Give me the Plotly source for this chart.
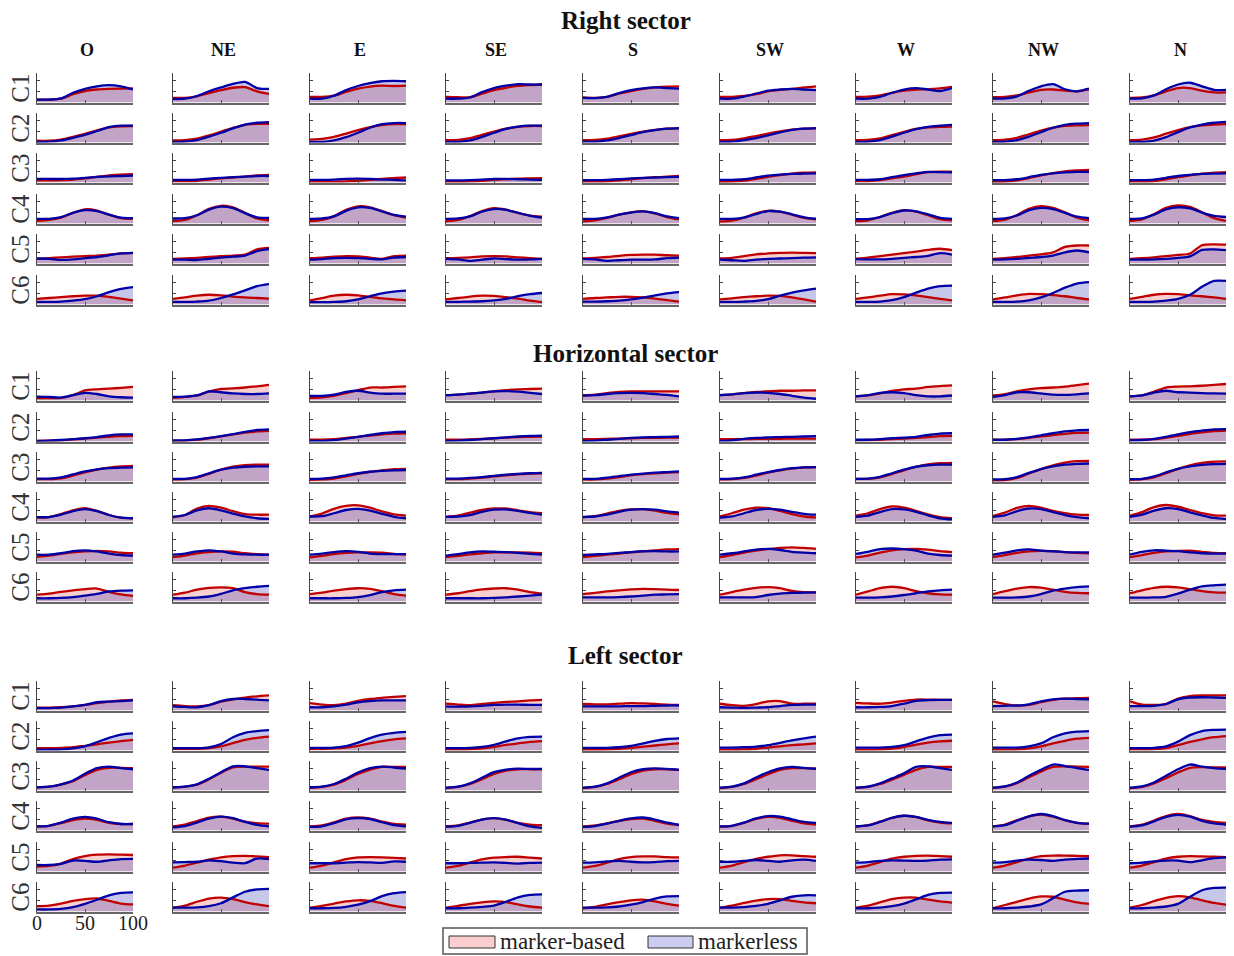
import plotly.graph_objects as go

# ---------------- data (percent of panel height) ----------------
X = [0, 12.5, 25, 37.5, 50, 62.5, 75, 87.5, 100]
SECTORS = ["Right sector", "Horizontal sector", "Left sector"]
DIRECTIONS = ["O", "NE", "E", "SE", "S", "SW", "W", "NW", "N"]
COMPONENTS = ["C1", "C2", "C3", "C4", "C5", "C6"]
X_TICK_LABELS = ["0", "50", "100"]
LEGEND_NAMES = ["marker-based", "markerless"]

# each list below: one curve per direction (O, NE, E, SE, S, SW, W, NW, N)
RIGHT_C1_MB = [[10,10,13,28,39,44,46,47,48],[16,16,21,32,42,50,52,38,29],[19,19,23,36,47,54,57,56,57],[19,18,18,30,42,50,56,59,61],[17,16,19,30,39,46,51,54,55],[19,19,22,28,38,43,46,51,55],[19,20,24,33,40,44,45,48,53],[18,19,24,34,43,44,40,38,45],[16,17,24,38,49,49,40,34,34]]
RIGHT_C1_ML = [[10,10,14,33,46,55,59,55,44],[12,13,22,38,51,63,70,49,46],[13,13,23,42,56,66,72,73,72],[13,13,17,35,49,57,62,61,61],[16,15,19,32,42,48,51,49,47],[13,13,20,30,40,44,46,44,42],[13,13,19,33,44,49,44,39,49],[13,14,21,40,55,62,45,38,47],[13,14,24,45,61,67,55,43,43]]
RIGHT_C2_MB = [[6,6,10,19,29,41,51,55,56],[7,8,13,24,37,50,60,63,63],[10,12,19,30,42,52,59,62,62],[8,9,15,26,37,47,53,56,56],[8,9,13,21,29,37,43,47,48],[8,9,14,22,30,38,44,47,48],[8,9,14,25,36,46,51,53,54],[8,10,16,28,40,50,56,58,59],[8,10,17,30,42,52,58,61,62]]
RIGHT_C2_ML = [[2,3,7,16,26,39,52,57,57],[2,3,8,20,33,48,61,67,69],[2,2,7,18,33,50,62,66,66],[2,2,7,19,33,46,54,57,57],[3,3,7,15,25,35,42,47,49],[2,3,8,15,24,34,43,47,49],[2,3,8,20,33,45,53,57,60],[2,3,8,20,35,50,60,64,66],[2,2,6,18,35,51,61,67,70]]
RIGHT_C3_MB = [[7,7,8,10,14,19,24,27,28],[5,5,6,10,14,17,20,24,26],[3,3,3,4,6,9,12,15,17],[3,3,4,6,9,11,13,14,15],[3,3,4,7,11,15,18,20,22],[2,3,6,12,19,25,30,33,34],[5,5,8,14,20,28,35,37,37],[2,3,7,15,24,32,38,41,43],[3,3,5,11,18,24,30,33,35]]
RIGHT_C3_ML = [[12,12,12,13,16,19,21,22,23],[9,9,10,13,16,18,20,22,22],[9,9,10,12,13,12,10,9,7],[7,7,8,10,12,12,11,10,9],[8,8,9,11,14,16,17,18,19],[9,9,11,17,23,27,29,30,31],[9,9,11,18,25,31,36,35,34],[8,8,11,18,26,31,34,36,36],[8,8,10,16,22,26,29,30,31]]
RIGHT_C4_MB = [[9,12,20,36,48,44,30,18,16],[8,12,28,50,60,55,36,17,11],[8,12,25,46,58,55,42,28,20],[7,12,25,42,52,47,36,27,23],[7,11,19,30,38,42,34,22,14],[7,10,20,34,43,40,30,19,14],[8,11,22,36,45,40,28,15,11],[8,13,29,50,59,53,38,20,11],[9,14,32,53,61,56,38,18,9]]
RIGHT_C4_ML = [[16,16,22,36,45,42,30,20,18],[17,18,28,47,57,52,35,21,19],[16,17,24,43,55,53,41,29,23],[16,17,24,40,49,46,36,26,20],[16,16,21,30,37,41,35,24,18],[16,16,20,32,42,40,31,21,16],[15,15,22,35,44,41,31,19,16],[16,17,27,45,53,49,36,23,18],[16,17,30,48,55,51,37,26,22]]
RIGHT_C5_MB = [[16,18,21,23,25,27,30,34,36],[16,17,19,22,25,27,30,48,53],[18,20,23,25,24,20,16,25,27],[18,19,21,24,25,24,21,18,16],[17,19,22,26,29,30,30,28,27],[17,19,25,31,34,36,37,36,35],[16,20,25,30,35,40,46,50,45],[16,18,22,27,31,38,56,61,61],[16,18,21,25,29,34,62,65,64]]
RIGHT_C5_ML = [[17,16,12,14,18,22,28,34,36],[13,13,12,16,20,23,27,42,49],[13,15,18,19,18,16,14,20,22],[16,14,9,13,17,15,13,14,16],[16,14,9,11,13,13,14,18,20],[13,11,9,13,16,17,18,20,21],[15,14,14,16,19,22,26,35,30],[13,14,16,19,22,27,38,44,38],[13,13,14,16,19,24,46,48,45]]
RIGHT_C6_MB = [[19,22,25,28,30,30,26,20,14],[19,24,30,33,31,27,24,22,20],[14,22,30,33,31,26,21,17,14],[17,22,27,30,29,25,20,13,8],[19,22,24,26,26,24,20,15,10],[17,21,25,28,30,29,24,17,10],[19,24,30,35,34,31,25,19,14],[17,24,31,36,35,32,28,22,17],[19,26,33,36,35,31,28,24,19]]
RIGHT_C6_ML = [[9,9,10,13,18,28,42,53,59],[9,9,10,13,22,34,48,62,69],[8,8,9,11,17,28,38,44,47],[9,9,10,11,14,19,28,35,39],[10,10,11,13,17,23,31,38,42],[9,9,10,12,18,30,40,48,54],[9,9,10,15,25,40,54,62,64],[9,9,10,14,24,39,57,71,76],[9,9,10,13,19,33,60,80,80]]

HORIZ_C1_MB = [[8,8,9,18,34,38,40,43,46],[9,12,17,30,39,41,44,48,53],[9,11,16,25,35,44,44,46,48],[18,20,23,27,31,35,38,39,40],[17,20,25,29,31,31,31,31,31],[18,21,25,29,31,33,33,34,34],[14,17,24,33,38,40,46,49,51],[17,22,31,38,42,44,47,52,57],[14,17,30,44,47,48,50,53,56]]
HORIZ_C1_ML = [[13,12,10,18,26,22,14,11,10],[12,13,17,31,28,24,22,22,24],[16,16,20,29,33,27,23,23,23],[18,20,23,27,31,32,30,26,22],[17,18,22,25,26,25,22,19,14],[18,21,25,27,26,22,16,10,6],[14,18,26,28,25,18,14,14,17],[12,18,28,28,24,20,19,21,24],[14,17,27,33,28,27,25,24,23]]
HORIZ_C2_MB = [[2,3,4,7,10,13,16,18,19],[2,3,6,11,17,24,30,34,36],[6,6,8,12,16,20,24,27,28],[6,6,7,9,11,13,15,16,17],[8,8,9,10,11,12,12,13,13],[8,8,8,9,9,9,10,10,10],[4,5,6,8,10,12,15,18,19],[6,6,8,12,17,22,26,29,30],[6,6,8,13,19,26,31,35,37]]
HORIZ_C2_ML = [[2,3,5,8,11,15,21,24,24],[4,4,7,12,18,25,33,39,41],[2,2,5,10,16,22,28,32,33],[2,3,5,8,11,14,17,19,20],[2,3,6,9,12,14,15,16,17],[2,4,9,12,14,15,16,17,18],[6,6,8,11,13,16,22,27,28],[6,6,9,14,21,28,34,38,39],[4,5,9,16,24,32,37,41,42]]
HORIZ_C3_MB = [[8,8,11,20,31,40,47,51,53],[7,8,13,26,40,50,55,57,57],[6,7,10,17,26,33,38,42,43],[8,8,10,13,17,21,24,27,28],[7,7,10,15,21,25,28,30,32],[7,8,12,20,30,38,44,48,49],[9,9,14,25,38,50,58,62,63],[3,5,12,27,42,55,64,69,70],[6,8,14,28,43,55,63,67,68]]
HORIZ_C3_ML = [[10,10,14,24,34,41,45,47,48],[9,9,15,28,40,47,50,51,51],[9,10,14,21,28,33,36,38,39],[10,10,12,15,19,23,26,28,29],[9,9,13,18,23,27,30,32,34],[9,10,14,23,32,39,45,48,49],[9,10,16,28,40,50,55,57,57],[7,8,15,29,42,51,57,60,61],[8,9,17,31,43,51,56,59,60]]
HORIZ_C4_MB = [[13,15,25,38,45,36,22,13,11],[14,22,44,53,47,35,25,23,23],[17,27,43,53,55,47,34,24,20],[16,20,30,39,44,44,38,32,28],[14,18,27,36,41,42,37,29,24],[17,28,40,47,45,36,25,17,14],[20,28,42,51,47,36,24,15,11],[19,30,46,53,47,36,28,23,22],[20,32,49,56,50,39,28,21,20]]
HORIZ_C4_ML = [[15,15,23,35,42,35,22,13,11],[16,22,38,45,38,27,17,11,9],[17,18,28,39,43,37,26,16,11],[16,17,22,33,40,41,36,29,23],[16,17,23,33,40,42,40,34,30],[13,17,28,39,43,40,33,26,23],[16,20,32,42,41,33,21,11,7],[16,21,35,44,42,32,22,15,11],[16,23,37,45,42,31,21,12,8]]
HORIZ_C5_MB = [[16,20,26,31,34,36,34,30,28],[15,20,28,32,34,33,28,25,23],[14,19,25,29,31,31,30,26,23],[15,19,24,28,31,31,31,30,28],[15,19,23,27,31,35,38,41,42],[15,22,30,37,42,46,48,46,43],[14,20,30,38,42,43,40,35,32],[15,22,29,34,36,35,32,29,28],[15,22,29,34,36,37,33,29,28]]
HORIZ_C5_ML = [[23,23,28,35,38,34,27,22,20],[23,27,34,38,34,27,24,23,23],[23,27,32,35,33,27,25,25,25],[20,25,31,34,33,32,29,26,23],[22,24,26,29,32,34,35,34,34],[23,28,34,40,43,39,33,30,28],[26,33,42,44,42,37,27,22,20],[23,30,38,41,37,34,32,31,31],[24,33,38,37,35,31,28,27,27]]
HORIZ_C6_MB = [[23,27,33,38,42,44,33,24,19],[23,30,40,46,48,45,32,25,23],[25,30,37,42,45,43,35,25,20],[23,28,35,41,44,45,40,32,27],[25,29,34,38,41,43,42,40,39],[23,32,40,46,49,45,36,32,31],[23,34,45,50,45,35,28,24,23],[25,35,44,49,47,40,33,29,28],[28,38,46,50,48,42,35,31,30]]
HORIZ_C6_ML = [[11,11,12,15,20,26,34,37,38],[11,11,13,17,26,38,45,50,53],[11,11,11,12,15,22,32,38,40],[11,11,11,11,12,14,17,20,23],[14,14,14,15,17,20,23,24,25],[14,14,14,15,22,27,29,30,31],[13,13,14,17,22,28,34,38,40],[13,13,14,17,25,37,44,49,51],[13,13,14,16,27,40,51,55,57]]

LEFT_C1_MB = [[10,10,11,14,19,25,30,34,36],[18,15,14,18,30,38,44,48,51],[25,20,18,23,33,39,43,46,49],[23,20,18,22,26,29,31,34,36],[22,21,21,23,25,24,22,20,19],[23,18,16,22,31,32,23,23,23],[26,24,23,27,33,37,37,36,36],[31,22,17,19,28,36,40,42,43],[31,20,19,22,40,49,51,51,51]]
LEFT_C1_ML = [[8,8,10,14,19,28,30,32,34],[14,12,11,18,32,39,39,37,34],[11,11,14,20,28,32,34,34,34],[14,13,14,16,19,20,20,19,19],[14,14,14,14,15,15,16,17,17],[11,10,9,10,11,15,19,20,20],[11,11,12,15,23,33,35,36,36],[15,16,17,21,31,38,40,39,38],[15,15,16,22,38,44,45,44,43]]
LEFT_C2_MB = [[8,8,9,11,16,21,27,32,36],[6,6,6,8,14,25,36,43,47],[6,6,7,10,16,24,32,38,41],[4,4,5,7,12,19,24,29,32],[3,3,4,6,9,13,17,21,24],[3,3,4,6,10,14,18,21,24],[3,3,4,6,12,20,27,31,33],[3,3,4,7,14,24,33,40,43],[4,4,5,8,18,29,38,45,49]]
LEFT_C2_ML = [[3,3,4,7,14,28,43,54,58],[8,8,8,11,22,45,60,66,69],[9,9,10,15,27,42,54,60,63],[8,8,9,12,19,31,41,46,47],[9,9,9,11,16,24,33,39,41],[10,10,11,13,18,26,34,41,47],[10,10,10,12,18,31,44,52,54],[10,10,10,14,24,45,58,64,66],[8,8,9,14,30,52,66,70,71]]
LEFT_C3_MB = [[11,13,20,32,52,70,77,77,76],[10,13,20,38,60,78,81,81,81],[9,12,20,36,56,71,80,80,80],[8,12,22,38,56,67,72,72,72],[8,12,22,38,55,67,72,72,70],[8,12,22,38,55,70,76,76,75],[9,12,22,37,53,70,80,80,80],[9,13,25,45,64,80,82,81,80],[8,12,24,42,61,77,79,78,78]]
LEFT_C3_ML = [[11,13,21,34,57,76,81,76,72],[11,13,21,40,62,82,82,76,70],[11,13,22,40,61,76,81,78,74],[10,13,24,43,62,71,74,73,73],[10,13,24,43,62,72,75,73,70],[10,13,24,44,62,75,80,77,73],[10,13,24,41,58,80,82,76,70],[10,14,27,50,70,88,83,76,70],[10,14,27,50,72,88,81,76,73]]
LEFT_C4_MB = [[14,16,25,35,40,36,26,22,22],[14,20,32,44,47,40,30,25,23],[14,17,28,40,44,40,30,22,20],[14,17,27,37,42,36,26,20,18],[14,17,24,33,39,40,33,23,18],[13,16,26,39,46,43,33,24,20],[13,18,30,43,50,45,34,27,24],[14,20,35,48,54,47,35,26,23],[14,20,34,49,56,49,36,29,26]]
LEFT_C4_ML = [[14,16,27,40,46,40,28,22,22],[11,15,27,40,47,42,29,19,14],[12,14,25,38,42,39,28,18,14],[13,16,26,37,42,37,25,14,9],[12,15,23,33,41,44,37,27,20],[14,16,27,41,49,47,38,29,26],[14,17,29,43,50,46,36,29,26],[14,18,33,48,56,49,35,26,23],[13,17,31,46,53,47,33,24,20]]
LEFT_C5_MB = [[17,19,27,42,52,57,58,57,56],[13,20,30,40,48,52,53,51,49],[13,20,31,42,48,49,48,46,44],[13,19,30,41,47,49,50,47,44],[13,19,30,42,49,51,51,49,48],[13,20,32,43,50,55,55,52,50],[13,20,32,44,50,53,54,52,50],[13,20,32,44,52,54,54,53,52],[13,20,32,44,50,52,51,50,49]]
LEFT_C5_ML = [[22,22,26,37,36,33,38,42,43],[31,32,33,38,35,30,28,44,42],[28,28,28,30,32,31,29,34,33],[28,28,29,30,31,29,27,29,30],[30,31,34,36,33,31,32,35,36],[33,33,36,39,36,33,38,40,36],[30,32,36,38,37,36,37,40,41],[30,32,37,40,39,36,40,43,44],[28,30,34,37,37,32,38,45,48]]
LEFT_C6_MB = [[18,20,27,36,42,44,36,27,24],[13,20,33,44,47,42,32,24,18],[13,19,27,34,38,36,28,19,13],[13,19,26,31,34,32,24,17,13],[11,16,24,32,38,40,34,26,20],[13,20,29,37,42,42,36,31,28],[13,20,31,42,47,47,40,34,30],[11,22,33,44,51,50,40,31,26],[13,22,35,46,52,48,38,29,23]]
LEFT_C6_ML = [[7,7,9,15,26,40,55,63,65],[13,13,14,18,28,48,67,75,77],[11,11,12,16,23,35,52,62,66],[11,11,13,16,20,33,48,56,58],[13,13,14,17,23,32,44,51,52],[13,13,15,19,26,38,50,55,55],[11,11,13,18,27,41,56,63,64],[11,11,13,17,24,45,67,71,72],[11,11,13,17,26,50,72,80,81]]

DATA = [
    [(RIGHT_C1_MB, RIGHT_C1_ML), (RIGHT_C2_MB, RIGHT_C2_ML), (RIGHT_C3_MB, RIGHT_C3_ML),
     (RIGHT_C4_MB, RIGHT_C4_ML), (RIGHT_C5_MB, RIGHT_C5_ML), (RIGHT_C6_MB, RIGHT_C6_ML)],
    [(HORIZ_C1_MB, HORIZ_C1_ML), (HORIZ_C2_MB, HORIZ_C2_ML), (HORIZ_C3_MB, HORIZ_C3_ML),
     (HORIZ_C4_MB, HORIZ_C4_ML), (HORIZ_C5_MB, HORIZ_C5_ML), (HORIZ_C6_MB, HORIZ_C6_ML)],
    [(LEFT_C1_MB, LEFT_C1_ML), (LEFT_C2_MB, LEFT_C2_ML), (LEFT_C3_MB, LEFT_C3_ML),
     (LEFT_C4_MB, LEFT_C4_ML), (LEFT_C5_MB, LEFT_C5_ML), (LEFT_C6_MB, LEFT_C6_ML)],
]

# ---------------- layout / style ----------------
W, H = 1234, 956
COL_LEFT = [37, 173, 310, 446, 583, 720, 856, 993, 1130]
COL_W = 96
ROW_TOP = [[73, 113, 153, 194, 234, 275],
           [371, 412, 452, 492, 532, 572],
           [681, 721, 761, 801, 842, 882]]
ROW_H = 29.5
TITLE_Y = [20, 353, 655]

RED_FILL = "rgba(225,40,40,0.22)"
BLUE_FILL = "rgba(30,30,170,0.25)"
RED_LINE = "#c00000"
BLUE_LINE = "#0000a8"
LINE_W = 2.3
SERIF = "Liberation Serif, Times New Roman, serif"


def px(x):
    return x / W


def py(y):
    return 1 - y / H


fig = go.Figure()
axes = {}
k = 0
for s in range(len(SECTORS)):
    for r in range(len(COMPONENTS)):
        mb, ml = DATA[s][r]
        for c in range(len(DIRECTIONS)):
            k += 1
            xa = "x" if k == 1 else f"x{k}"
            ya = "y" if k == 1 else f"y{k}"
            common = dict(x=X, xaxis=xa, yaxis=ya, mode="lines", hoverinfo="skip", showlegend=False)
            fig.add_trace(go.Scatter(y=mb[c], fill="tozeroy", fillcolor=RED_FILL,
                                     line=dict(width=0, shape="spline", smoothing=0.8), **common))
            fig.add_trace(go.Scatter(y=ml[c], fill="tozeroy", fillcolor=BLUE_FILL,
                                     line=dict(width=0, shape="spline", smoothing=0.8), **common))
            fig.add_trace(go.Scatter(y=mb[c], line=dict(width=LINE_W, color=RED_LINE, shape="spline", smoothing=0.8), **common))
            fig.add_trace(go.Scatter(y=ml[c], line=dict(width=LINE_W, color=BLUE_LINE, shape="spline", smoothing=0.8), **common))

            x0 = px(COL_LEFT[c])
            x1 = px(COL_LEFT[c] + COL_W)
            y1 = py(ROW_TOP[s][r])
            y0 = py(ROW_TOP[s][r] + ROW_H)
            show_x = (s == 2 and r == 5 and c == 0)
            axes["xaxis" if k == 1 else f"xaxis{k}"] = dict(
                domain=[x0, x1], anchor=ya, range=[0, 100], showgrid=False, zeroline=False,
                showline=True, linecolor="#666", linewidth=1.5, ticks="inside", ticklen=3,
                tickcolor="#555", tickvals=[0, 50, 100], ticktext=X_TICK_LABELS,
                showticklabels=show_x, tickfont=dict(family=SERIF, size=20, color="#222"),
                ticklabelstandoff=-7, automargin=False, fixedrange=True)
            axes["yaxis" if k == 1 else f"yaxis{k}"] = dict(
                domain=[y0, y1], anchor=xa, range=[0, 100], showgrid=False, zeroline=False,
                showline=True, linecolor="#444", linewidth=1.2, ticks="inside", ticklen=3,
                tickcolor="#444", tickvals=[0, 36.5, 73], showticklabels=False,
                automargin=False, fixedrange=True)

annotations = []
for s, title in enumerate(SECTORS):
    annotations.append(dict(text=f"<b>{title}</b>", x=0.507, y=py(TITLE_Y[s]), xref="paper", yref="paper",
                            showarrow=False, font=dict(family=SERIF, size=25, color="#111"),
                            xanchor="center", yanchor="middle"))
    for r, comp in enumerate(COMPONENTS):
        annotations.append(dict(text=comp, x=px(21), y=py(ROW_TOP[s][r] + ROW_H / 2), xref="paper", yref="paper",
                                showarrow=False, textangle=-90, font=dict(family=SERIF, size=25, color="#333"),
                                xanchor="center", yanchor="middle"))
for c, d in enumerate(DIRECTIONS):
    annotations.append(dict(text=f"<b>{d}</b>", x=px(COL_LEFT[c] + COL_W / 2 + 2), y=py(50), xref="paper", yref="paper",
                            showarrow=False, font=dict(family=SERIF, size=18, color="#111"),
                            xanchor="center", yanchor="middle"))

# legend (drawn as box, patches and text)
shapes = [
    dict(type="rect", xref="paper", yref="paper", x0=px(443), x1=px(807), y0=py(954), y1=py(928),
         line=dict(color="#555", width=1.5), fillcolor="white"),
    dict(type="rect", xref="paper", yref="paper", x0=px(449), x1=px(495), y0=py(948), y1=py(936),
         line=dict(color="#333", width=1), fillcolor="rgb(250,206,206)"),
    dict(type="rect", xref="paper", yref="paper", x0=px(648), x1=px(693), y0=py(948), y1=py(936),
         line=dict(color="#333", width=1), fillcolor="rgb(204,204,240)"),
]
annotations.append(dict(text=LEGEND_NAMES[0], x=px(498), y=py(941), xref="paper", yref="paper", showarrow=False,
                        xanchor="left", yanchor="middle", font=dict(family=SERIF, size=23, color="#222")))
annotations.append(dict(text=LEGEND_NAMES[1], x=px(696), y=py(941), xref="paper", yref="paper", showarrow=False,
                        xanchor="left", yanchor="middle", font=dict(family=SERIF, size=23, color="#222")))

fig.update_layout(width=W, height=H, autosize=False,
                  margin=dict(l=0, r=0, t=0, b=0, pad=0, autoexpand=False),
                  paper_bgcolor="white", plot_bgcolor="white", showlegend=False,
                  annotations=annotations, shapes=shapes, **axes)

fig.write_html("out.html", config={"displayModeBar": False},
               post_script="document.body.style.margin='0';document.body.style.overflow='hidden';")
